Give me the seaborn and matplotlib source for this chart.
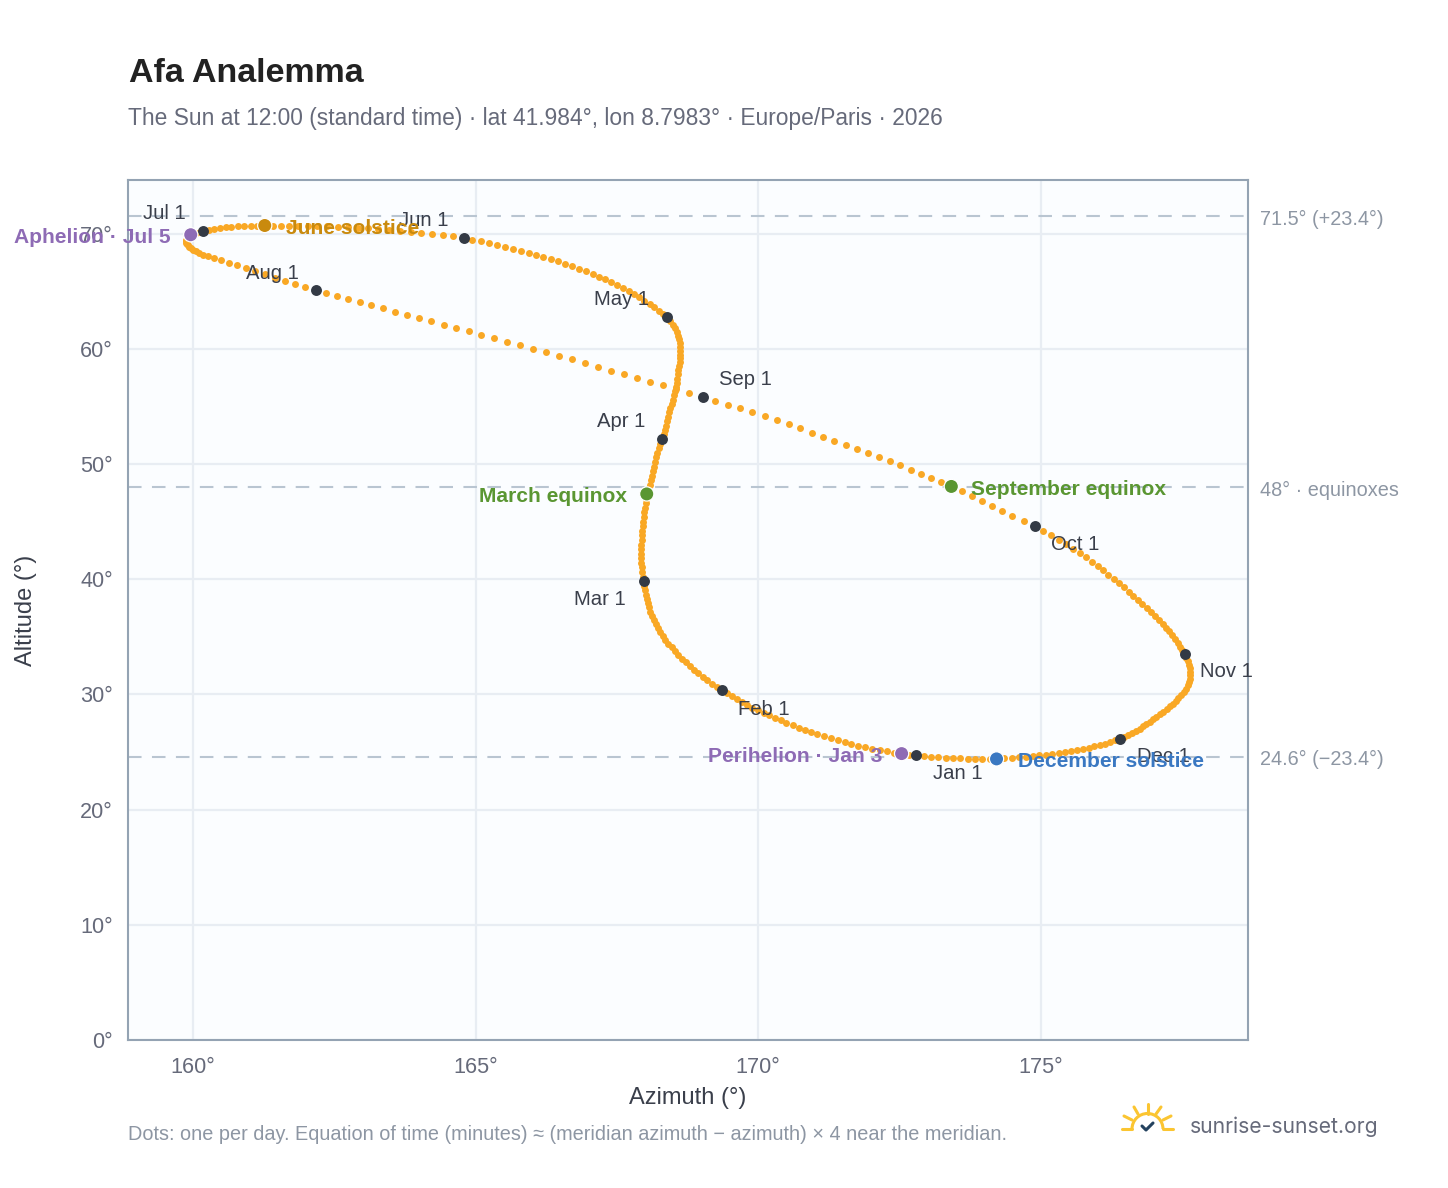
"""Afa analemma: the Sun at 12:00 through 2026, one dot per day."""

import matplotlib
matplotlib.use("Agg")
import matplotlib.pyplot as plt
from matplotlib.lines import Line2D
from matplotlib.patches import Arc
import pandas as pd
import seaborn as sns

# daily azimuth / altitude, month by month
az_jan = [172.80, 172.67, 172.54, 172.41, 172.28, 172.15, 172.02, 171.90, 171.77, 171.65, 171.53, 171.41, 171.29, 171.17, 171.05, 170.94, 170.83, 170.72, 170.61, 170.50, 170.40, 170.30, 170.20, 170.10, 170.00, 169.90, 169.81, 169.72, 169.63, 169.54, 169.45]
alt_jan = [24.70, 24.77, 24.86, 24.95, 25.05, 25.16, 25.28, 25.41, 25.55, 25.70, 25.85, 26.01, 26.18, 26.36, 26.54, 26.73, 26.92, 27.12, 27.32, 27.53, 27.74, 27.96, 28.18, 28.40, 28.63, 28.86, 29.09, 29.33, 29.57, 29.82, 30.08]
az_feb = [169.36, 169.27, 169.19, 169.10, 169.02, 168.94, 168.87, 168.79, 168.72, 168.65, 168.59, 168.53, 168.47, 168.41, 168.36, 168.31, 168.27, 168.23, 168.19, 168.15, 168.12, 168.09, 168.07, 168.05, 168.03, 168.01, 168.00, 167.99]
alt_feb = [30.35, 30.64, 30.93, 31.23, 31.53, 31.84, 32.15, 32.46, 32.78, 33.10, 33.42, 33.75, 34.08, 34.41, 34.75, 35.09, 35.43, 35.78, 36.13, 36.48, 36.83, 37.19, 37.55, 37.91, 38.27, 38.64, 39.03, 39.43]
az_mar = [167.98, 167.96, 167.95, 167.94, 167.93, 167.93, 167.93, 167.93, 167.93, 167.94, 167.95, 167.95, 167.96, 167.97, 167.98, 167.99, 168.00, 168.01, 168.02, 168.04, 168.06, 168.08, 168.10, 168.12, 168.14, 168.16, 168.18, 168.20, 168.22, 168.24, 168.27]
alt_mar = [39.83, 40.23, 40.63, 41.02, 41.42, 41.82, 42.22, 42.62, 43.01, 43.41, 43.81, 44.21, 44.61, 45.00, 45.40, 45.80, 46.20, 46.60, 47.00, 47.40, 47.80, 48.19, 48.59, 48.99, 49.39, 49.78, 50.18, 50.58, 50.98, 51.37, 51.77]
az_apr = [168.30, 168.33, 168.35, 168.37, 168.39, 168.41, 168.43, 168.45, 168.47, 168.49, 168.51, 168.53, 168.55, 168.56, 168.57, 168.58, 168.59, 168.60, 168.61, 168.62, 168.62, 168.62, 168.62, 168.61, 168.60, 168.58, 168.56, 168.53, 168.49, 168.44]
alt_apr = [52.17, 52.56, 52.95, 53.33, 53.71, 54.09, 54.47, 54.85, 55.22, 55.59, 55.96, 56.33, 56.69, 57.05, 57.41, 57.77, 58.12, 58.47, 58.82, 59.16, 59.50, 59.84, 60.17, 60.50, 60.83, 61.15, 61.47, 61.79, 62.10, 62.41]
az_may = [168.38, 168.31, 168.24, 168.16, 168.08, 167.99, 167.90, 167.81, 167.71, 167.61, 167.51, 167.40, 167.29, 167.18, 167.07, 166.95, 166.83, 166.71, 166.59, 166.46, 166.33, 166.20, 166.07, 165.94, 165.80, 165.66, 165.52, 165.38, 165.24, 165.09, 164.94]
alt_may = [62.72, 63.02, 63.32, 63.61, 63.90, 64.18, 64.46, 64.73, 65.00, 65.26, 65.52, 65.77, 66.02, 66.26, 66.50, 66.73, 66.95, 67.17, 67.38, 67.58, 67.78, 67.97, 68.15, 68.33, 68.51, 68.68, 68.85, 69.01, 69.17, 69.32, 69.47]
az_jun = [164.80, 164.61, 164.42, 164.23, 164.04, 163.85, 163.66, 163.47, 163.28, 163.10, 162.92, 162.74, 162.56, 162.38, 162.20, 162.03, 161.86, 161.70, 161.55, 161.41, 161.27, 161.14, 161.02, 160.90, 160.79, 160.68, 160.58, 160.48, 160.38, 160.28]
alt_jun = [69.62, 69.75, 69.87, 69.98, 70.08, 70.17, 70.25, 70.33, 70.40, 70.46, 70.52, 70.57, 70.61, 70.64, 70.66, 70.68, 70.69, 70.70, 70.70, 70.70, 70.70, 70.69, 70.68, 70.66, 70.63, 70.59, 70.54, 70.48, 70.41, 70.31]
az_jul = [160.18, 160.12, 160.06, 160.01, 159.96, 159.93, 159.91, 159.89, 159.88, 159.87, 159.88, 159.89, 159.91, 159.93, 159.96, 160.00, 160.05, 160.11, 160.18, 160.26, 160.37, 160.49, 160.63, 160.78, 160.94, 161.10, 161.27, 161.45, 161.63, 161.81, 161.99]
alt_jul = [70.20, 70.13, 70.06, 69.98, 69.90, 69.80, 69.69, 69.58, 69.46, 69.34, 69.22, 69.10, 68.97, 68.84, 68.71, 68.58, 68.45, 68.32, 68.18, 68.03, 67.86, 67.67, 67.46, 67.23, 66.98, 66.72, 66.45, 66.17, 65.89, 65.62, 65.35]
az_aug = [162.17, 162.36, 162.55, 162.75, 162.95, 163.15, 163.36, 163.57, 163.78, 164.00, 164.22, 164.44, 164.66, 164.88, 165.10, 165.33, 165.56, 165.79, 166.02, 166.25, 166.48, 166.71, 166.94, 167.17, 167.40, 167.63, 167.86, 168.09, 168.32, 168.55, 168.78]
alt_aug = [65.10, 64.84, 64.58, 64.32, 64.05, 63.78, 63.51, 63.23, 62.95, 62.67, 62.38, 62.09, 61.80, 61.51, 61.21, 60.91, 60.61, 60.31, 60.00, 59.69, 59.38, 59.07, 58.75, 58.43, 58.11, 57.79, 57.47, 57.15, 56.82, 56.49, 56.16]
az_sep = [169.02, 169.24, 169.46, 169.68, 169.90, 170.12, 170.33, 170.54, 170.75, 170.95, 171.15, 171.35, 171.55, 171.75, 171.95, 172.14, 172.33, 172.52, 172.70, 172.88, 173.06, 173.24, 173.42, 173.60, 173.78, 173.96, 174.14, 174.32, 174.50, 174.70]
alt_sep = [55.83, 55.50, 55.16, 54.82, 54.48, 54.13, 53.78, 53.43, 53.08, 52.73, 52.38, 52.03, 51.68, 51.33, 50.97, 50.61, 50.25, 49.89, 49.52, 49.16, 48.79, 48.42, 48.05, 47.62, 47.19, 46.76, 46.33, 45.90, 45.47, 45.04]
az_oct = [174.90, 175.05, 175.19, 175.32, 175.45, 175.57, 175.69, 175.80, 175.91, 176.01, 176.11, 176.20, 176.29, 176.38, 176.47, 176.56, 176.64, 176.72, 176.80, 176.88, 176.95, 177.02, 177.09, 177.16, 177.22, 177.28, 177.33, 177.38, 177.43, 177.47, 177.51]
alt_oct = [44.61, 44.21, 43.82, 43.43, 43.04, 42.65, 42.27, 41.89, 41.51, 41.13, 40.76, 40.39, 40.02, 39.65, 39.29, 38.93, 38.57, 38.21, 37.86, 37.51, 37.16, 36.81, 36.47, 36.13, 35.79, 35.46, 35.13, 34.80, 34.47, 34.15, 33.83]
az_nov = [177.55, 177.58, 177.61, 177.63, 177.64, 177.65, 177.65, 177.64, 177.62, 177.60, 177.57, 177.53, 177.49, 177.44, 177.39, 177.34, 177.29, 177.23, 177.17, 177.11, 177.05, 176.99, 176.93, 176.87, 176.81, 176.75, 176.69, 176.62, 176.55, 176.48]
alt_nov = [33.51, 33.19, 32.87, 32.56, 32.25, 31.95, 31.65, 31.36, 31.07, 30.79, 30.51, 30.24, 29.97, 29.71, 29.45, 29.20, 28.96, 28.72, 28.49, 28.26, 28.04, 27.83, 27.62, 27.42, 27.22, 27.03, 26.85, 26.67, 26.50, 26.33]
az_dec = [176.41, 176.32, 176.23, 176.14, 176.05, 175.95, 175.85, 175.75, 175.64, 175.54, 175.43, 175.32, 175.21, 175.10, 174.98, 174.86, 174.74, 174.62, 174.49, 174.36, 174.23, 174.10, 173.97, 173.84, 173.71, 173.58, 173.45, 173.32, 173.19, 173.06, 172.93]
alt_dec = [26.15, 26.00, 25.86, 25.73, 25.60, 25.48, 25.37, 25.26, 25.16, 25.07, 24.98, 24.90, 24.83, 24.76, 24.70, 24.64, 24.59, 24.55, 24.51, 24.47, 24.44, 24.42, 24.42, 24.42, 24.43, 24.45, 24.47, 24.50, 24.54, 24.59, 24.64]

# first of each month
month_names = ["Jan 1", "Feb 1", "Mar 1", "Apr 1", "May 1", "Jun 1", "Jul 1", "Aug 1", "Sep 1", "Oct 1", "Nov 1", "Dec 1"]
month_az = [172.80, 169.36, 167.98, 168.30, 168.38, 164.80, 160.18, 162.17, 169.02, 174.90, 177.55, 176.41]
month_alt = [24.70, 30.35, 39.83, 52.17, 62.72, 69.62, 70.20, 65.10, 55.83, 44.61, 33.51, 26.15]

# solstices, equinoxes, apsides
event_names = ["Aphelion · Jul 5", "June solstice", "March equinox", "September equinox", "Perihelion · Jan 3", "December solstice"]
event_az = [159.96, 161.27, 168.03, 173.42, 172.54, 174.22]
event_alt = [69.90, 70.70, 47.40, 48.05, 24.86, 24.40]

# dashed reference altitudes
ref_alt = [71.5, 48.0, 24.6]
ref_labels = ["71.5° (+23.4°)", "48° · equinoxes", "24.6° (−23.4°)"]

x_ticks = [160, 165, 170, 175]
y_ticks = [0, 10, 20, 30, 40, 50, 60, 70]

# label offsets in pixels
month_offsets = [(42, -18), (42, -19), (-44, -18), (-41, 17), (-45, 18), (-40, 17), (-39, 18), (-43, 17), (43, 17), (40, -18), (42, -18), (43, -18)]
event_styles = [
    ("#8e6bb5", -20, -3, "right"),
    ("#c98a0e", 21, -3, "left"),
    ("#5a9632", -20, -3, "right"),
    ("#5a9632", 20, -3, "left"),
    ("#8e6bb5", -19, -3, "right"),
    ("#3a78c2", 21, -3, "left"),
]

sns.set_theme(style="whitegrid")
plt.rcParams["font.family"] = ["Liberation Sans", "DejaVu Sans"]

daily = pd.DataFrame({
    "azimuth": az_jan + az_feb + az_mar + az_apr + az_may + az_jun + az_jul + az_aug + az_sep + az_oct + az_nov + az_dec,
    "altitude": alt_jan + alt_feb + alt_mar + alt_apr + alt_may + alt_jun + alt_jul + alt_aug + alt_sep + alt_oct + alt_nov + alt_dec,
})
months = pd.DataFrame({"azimuth": month_az, "altitude": month_alt})
events = pd.DataFrame({"azimuth": event_az, "altitude": event_alt, "color": [s[0] for s in event_styles]})

fig = plt.figure(figsize=(14.48, 11.88), dpi=100, facecolor="white")
ax = fig.add_axes([128 / 1448, 148 / 1188, 1120 / 1448, 860 / 1188], facecolor="#fbfdff")

ax.grid(True, color="#e8edf3", linewidth=1.6)
ax.set_axisbelow(True)
for spine in ax.spines.values():
    spine.set_color("#94a3b3")
    spine.set_linewidth(1.5)

for alt in ref_alt:
    ax.axhline(alt, color="#b9c5d1", linewidth=1.5, dashes=(6.5, 5), zorder=1.5)

sns.scatterplot(data=daily, x="azimuth", y="altitude", ax=ax, color="#f9a825", s=25, linewidth=0, zorder=3,
                clip_on=False, snap=False)
sns.scatterplot(data=months, x="azimuth", y="altitude", ax=ax, color="#333a45", s=62, linewidth=0, zorder=4, snap=False)
sns.scatterplot(data=events, x="azimuth", y="altitude", hue="color", palette=dict(zip(events["color"], events["color"])),
                ax=ax, s=105, edgecolor="white", linewidth=0.9, zorder=5, legend=False, clip_on=False, snap=False)

ax.set_xlim(158.85, 178.67)
ax.set_ylim(0, 74.65)
ax.set_xticks(x_ticks)
ax.set_xticklabels([f"{v}°" for v in x_ticks])
ax.set_yticks(y_ticks)
ax.set_yticklabels([f"{v}°" for v in y_ticks])
ax.tick_params(axis="both", length=0, labelsize=15.6, labelcolor="#666a7a")
ax.tick_params(axis="x", pad=12)
ax.tick_params(axis="y", pad=11)

ax.set_xlabel("Azimuth (°)", fontsize=17, color="#3a3f4b", va="center")
ax.xaxis.set_label_coords(0.5, -0.067)
ax.set_ylabel("Altitude (°)", fontsize=17, color="#3a3f4b", va="center")
ax.yaxis.set_label_coords(-0.091, 0.5)

for name, x, y, (dx, dy) in zip(month_names, month_az, month_alt, month_offsets):
    ax.annotate(name, (x, y), xytext=(dx, dy), textcoords="offset pixels", ha="center", va="center",
                fontsize=14.6, color="#3a3f4b", zorder=6)

for name, x, y, (color, dx, dy, ha) in zip(event_names, event_az, event_alt, event_styles):
    ax.annotate(name, (x, y), xytext=(dx, dy), textcoords="offset pixels", ha=ha, va="center",
                fontsize=15.1, fontweight="bold", color=color, zorder=7)

for alt, label in zip(ref_alt, ref_labels):
    ax.annotate(label, (1, alt), xycoords=("axes fraction", "data"), xytext=(12, -3), textcoords="offset pixels",
                ha="left", va="center", fontsize=14.3, color="#8d96a3")

fig.text(129 / 1448, 1 - 74 / 1188, "Afa Analemma", fontsize=24.5, fontweight="bold", color="#222222", va="center")
fig.text(128 / 1448, 1 - 118 / 1188, "The Sun at 12:00 (standard time) · lat 41.984°, lon 8.7983° · Europe/Paris · 2026",
         fontsize=16.4, color="#666a7a", va="center")
fig.text(128 / 1448, 1 - 1135 / 1188,
         "Dots: one per day. Equation of time (minutes) ≈ (meridian azimuth − azimuth) × 4 near the meridian.",
         fontsize=14.3, color="#8d96a3", va="center")
fig.text(1190 / 1448, 1 - 1127 / 1188, "sunrise-sunset.org", fontsize=15.2, color="#666a7a", va="center", family="Inter")

# logo, drawn on an overlay in pixel coordinates
logo = fig.add_axes([0, 0, 1, 1], facecolor="none")
logo.set_xlim(0, 1448)
logo.set_ylim(1188, 0)
logo.axis("off")
sun = "#fbc531"
for xs, ys in [((1122, 1132), (1129, 1129)), ((1163, 1173), (1129, 1129)), ((1147.5, 1147.5), (1104, 1114)),
               ((1134, 1138), (1107, 1114)), ((1161, 1156), (1107, 1114)), ((1124, 1132), (1116, 1120)),
               ((1171, 1163), (1116, 1120))]:
    logo.add_line(Line2D(xs, ys, color=sun, linewidth=2.2, solid_capstyle="round"))
logo.add_patch(Arc((1147.5, 1129), 31, 31, theta1=180, theta2=360, color=sun, linewidth=2.2))
logo.add_line(Line2D((1142, 1146, 1153), (1126, 1130, 1123), color="#24425f", linewidth=2.2))

fig.savefig("out.png", dpi=100)
